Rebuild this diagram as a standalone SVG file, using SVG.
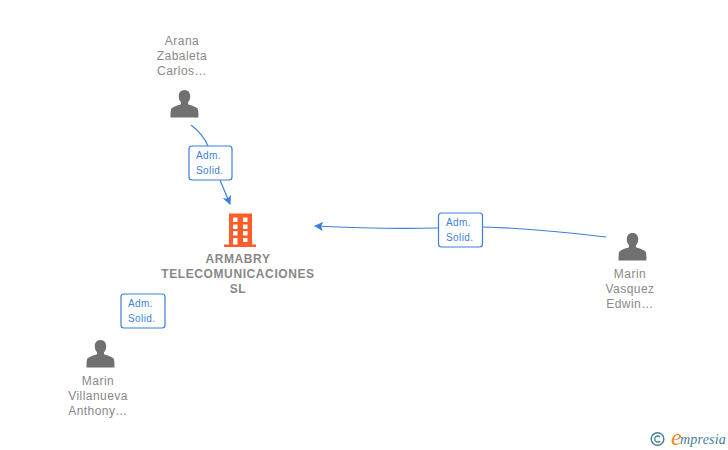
<svg xmlns="http://www.w3.org/2000/svg" width="728" height="450" viewBox="0 0 728 450">
<style>
.n{font:12px "Liberation Sans",Arial,sans-serif;fill:#888;text-anchor:middle;letter-spacing:.45px}
.b{font:bold 12px "Liberation Sans",Arial,sans-serif;fill:#888;text-anchor:middle;letter-spacing:.6px}
.l{font:10px "Liberation Sans",Arial,sans-serif;fill:#3a7fdc;letter-spacing:.4px}
.box{fill:#fff;stroke:#3a7fdc;stroke-width:1.2}
.c{fill:none;stroke:#3a7fdc;stroke-width:1.2}
.p{fill:#707070}
</style>
<defs>
<marker id="a" markerWidth="10" markerHeight="10" refX="8" refY="4.5" orient="auto" markerUnits="userSpaceOnUse"><path d="M0 0L9 4.500L0 9L2 4.500Z" fill="#3a7fdc"/></marker>
<path id="person" d="M0-15C-4-15-6-12-5.700-8C-5.500-5.500-4.500-3.800-3.500-2.700V-.8C-5-.2-11 1.500-13 3.500C-14 4.500-14 10-14 12.500H14C14 10 14 4.500 13 3.500C11 1.500 5-.2 3.500-.8V-2.700C4.500-3.800 5.500-5.500 5.700-8C6-12 4-15 0-15Z"/>
</defs>
<rect width="728" height="450" fill="#fff"/>
<g id="connectors">
<path class="c" d="M191 125Q203 134 208 146"/>
<path class="c" marker-end="url(#a)" d="M220 180L230 204"/>
<path class="c" marker-end="url(#a)" d="M438 228C395 229 355 228 315 226"/>
<path class="c" d="M483 227C525 228 565 232 606 237"/>
</g>
<g id="label-1"><rect class="box" x="189" y="146" width="43" height="34" rx="3"/><text class="l" x="196" y="159">Adm.</text><text class="l" x="196" y="174">Solid.</text></g>
<g id="label-2"><rect class="box" x="438.500" y="213" width="44" height="34" rx="3"/><text class="l" x="446" y="226">Adm.</text><text class="l" x="446" y="241">Solid.</text></g>
<g id="label-3"><rect class="box" x="121" y="294" width="44" height="34" rx="3"/><text class="l" x="128" y="307">Adm.</text><text class="l" x="128" y="322">Solid.</text></g>
<g id="company">
<path fill="#ff5c2b" fill-rule="evenodd" d="M229 213.500H252V244.500H256V247H224V244.500H229ZM233 217.500V222H237.500V217.500ZM243 217.500V222H247.500V217.500ZM233 224.500V229H237.500V224.500ZM243 224.500V229H247.500V224.500ZM233 231V235.500H237.500V231ZM243 231V235.500H247.500V231ZM233 238V244.500H237.500V238ZM243 238V242H247.500V238Z"/>
<text class="b" x="238" y="263">ARMABRY</text><text class="b" x="238" y="278">TELECOMUNICACIONES</text><text class="b" x="238" y="293">SL</text>
</g>
<g id="person-arana"><use href="#person" class="p" x="184.500" y="105"/><text class="n" x="182" y="45">Arana</text><text class="n" x="182" y="60">Zabaleta</text><text class="n" x="182" y="75">Carlos…</text></g>
<g id="person-vasquez"><use href="#person" class="p" x="632.500" y="248"/><text class="n" x="630" y="278">Marin</text><text class="n" x="630" y="293">Vasquez</text><text class="n" x="630" y="308">Edwin…</text></g>
<g id="person-villanueva"><use href="#person" class="p" x="100.500" y="355"/><text class="n" x="98" y="385">Marin</text><text class="n" x="98" y="400">Villanueva</text><text class="n" x="98" y="415">Anthony…</text></g>
<g id="logo">
<circle cx="657.500" cy="439" r="6.300" fill="none" stroke="#4a8296" stroke-width="1.500"/>
<path d="M660 437A3 3 0 1 0 660 441" fill="none" stroke="#4a8296" stroke-width="1.300"/>
<text x="671" y="445" font-family="'Liberation Serif',serif" font-style="italic" font-size="24" fill="#f08a1d">e</text>
<text x="680" y="444" font-family="'Liberation Serif',serif" font-style="italic" font-size="14" fill="#3f7f96" letter-spacing=".2">mpresia</text>
</g>
</svg>
